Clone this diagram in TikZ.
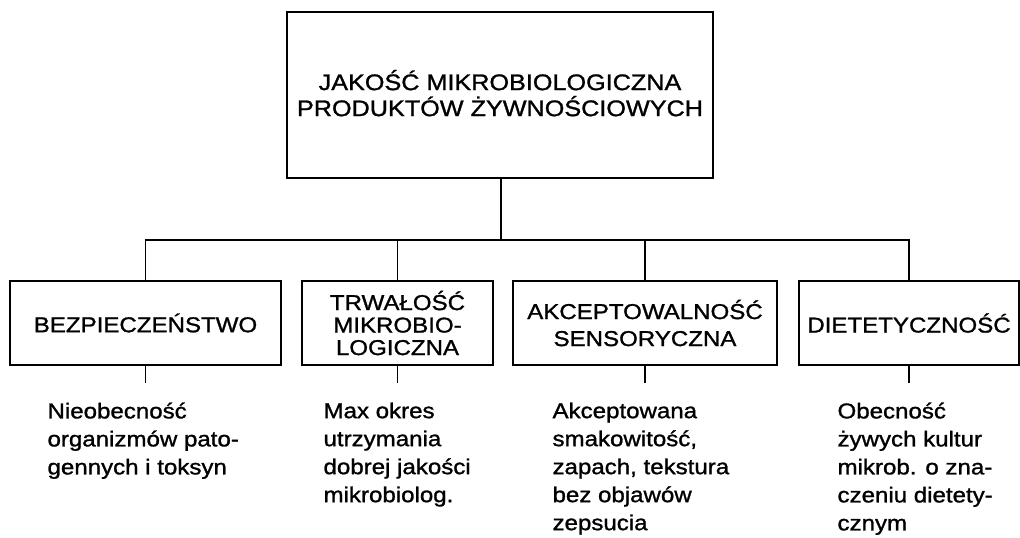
\documentclass[tikz,border=0pt]{standalone}
\usepackage{fontspec}
\setmainfont{Liberation Sans}[FakeStretch=1.12,FakeBold=1.2]
\begin{document}
\begin{tikzpicture}[x=1pt,y=-1pt,
  line width=1.1pt,
  box/.style={draw, line width=1.1pt, inner sep=0pt, align=center, font=\fontsize{21.5}{22.5}\selectfont},
  desc/.style={anchor=north west, inner xsep=0pt, inner ysep=19pt, align=left, font=\fontsize{21.5}{28}\selectfont}]
\useasboundingbox (0,0) rectangle (1020,538);
% top
\node[box, minimum width=426pt, minimum height=166pt, font=\fontsize{22.5}{26}\selectfont] (top) at (500,95) {JAKOŚĆ MIKROBIOLOGICZNA\\PRODUKTÓW ŻYWNOŚCIOWYCH\\[-22pt]\mbox{}};
% second level
\node[box, minimum width=271pt, minimum height=84pt] (b1) at (145.5,323) {BEZPIECZEŃSTWO};
\node[box, minimum width=191pt, minimum height=84pt] (b2) at (397.5,323) {TRWAŁOŚĆ\\MIKROBIO-\\LOGICZNA};
\node[box, minimum width=264pt, minimum height=84pt, font=\fontsize{21.5}{27}\selectfont] (b3) at (645,323) {AKCEPTOWALNOŚĆ\\SENSORYCZNA};
\node[box, minimum width=220pt, minimum height=84pt] (b4) at (909,323) {DIETETYCZNOŚĆ};
% bus
\coordinate (bus) at (501,240);
\draw (top.south -| bus) -- (bus);
\draw (b1.north) |- (bus) -| (b4.north);
\draw (b2.north) -- (b2.north |- bus);
\draw (b3.north) -- (b3.north |- bus);
% descriptions
\node[desc] (d1) at (47,383) {Nieobecność\\organizmów pato-\\gennych i toksyn};
\node[desc] (d2) at (323,383) {Max okres\\utrzymania\\dobrej jakości\\mikrobiolog.};
\node[desc] (d3) at (552,383) {Akceptowana\\smakowitość,\\zapach, tekstura\\bez objawów\\zepsucia};
\node[desc] (d4) at (837,383) {Obecność\\żywych kultur\\mikrob. o zna-\\czeniu dietety-\\cznym};
\draw (b1.south) -- (b1.south |- d1.north);
\draw (b2.south) -- (b2.south |- d2.north);
\draw (b3.south) -- (b3.south |- d3.north);
\draw (b4.south) -- (b4.south |- d4.north);
\end{tikzpicture}
\end{document}
